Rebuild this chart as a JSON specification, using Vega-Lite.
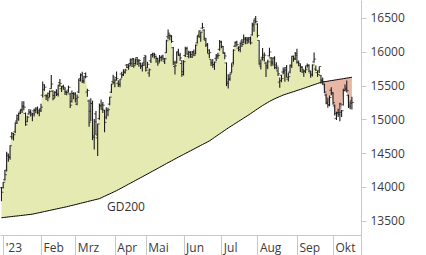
{
"$schema":"https://vega.github.io/schema/vega-lite/v6.json",
"width":361,"height":235,"autosize":"none",
"padding":{"left":0,"top":0,"right":65,"bottom":20},
"background":"white",
"config":{"view":{"stroke":null},
  "axisY":{"title":null,"orient":"right","grid":false,
        "values":[13300,13400,13500,13600,13700,13800,13900,14000,14100,14200,14300,14400,14500,14600,14700,14800,14900,15000,15100,15200,15300,15400,15500,15600,15700,15800,15900,16000,16100,16200,16300,16400,16500,16600,16700],
        "format":"d","labelExpr":"datum.value % 500 === 0 ? datum.label : ''",
        "tickSize":5,"tickColor":"#c8c8c8","domainColor":"#c8c8c8","labelPadding":4,
        "labelFont":"Open Sans","labelFontSize":12,"labelColor":"#3c3c3c","labelOverlap":false,"labelBound":false,"labelFlush":false}
},
"data":{"values":[
{"i":-1,"o":13990,"h":14000,"l":13790,"c":13924,"g":13545},
{"i":0,"o":13992,"h":14075,"l":13976,"c":14069,"g":13548},
{"i":1,"o":14108,"h":14252,"l":14095,"c":14181,"g":13551},
{"i":2,"o":14250,"h":14522,"l":14230,"c":14490,"g":13554},
{"i":3,"o":14462,"h":14492,"l":14372,"c":14436,"g":13557},
{"i":4,"o":14449,"h":14619,"l":14402,"c":14610,"g":13560},
{"i":5,"o":14744,"h":14815,"l":14704,"c":14792,"g":13563},
{"i":6,"o":14739,"h":14799,"l":14688,"c":14774,"g":13566},
{"i":7,"o":14817,"h":14959,"l":14800,"c":14948,"g":13569},
{"i":8,"o":14976,"h":15072,"l":14931,"c":15058,"g":13571},
{"i":9,"o":15007,"h":15097,"l":14980,"c":15086,"g":13574},
{"i":10,"o":15108,"h":15146,"l":15078,"c":15134,"g":13577},
{"i":11,"o":15149,"h":15270,"l":15093,"c":15187,"g":13580},
{"i":12,"o":15200,"h":15269,"l":15135,"c":15181,"g":13583},
{"i":13,"o":15088,"h":15103,"l":14906,"c":14920,"g":13586},
{"i":14,"o":14965,"h":15055,"l":14956,"c":15033,"g":13589},
{"i":15,"o":15081,"h":15154,"l":15073,"c":15103,"g":13592},
{"i":16,"o":15113,"h":15146,"l":15044,"c":15093,"g":13595},
{"i":17,"o":15069,"h":15093,"l":14973,"c":15081,"g":13598},
{"i":18,"o":15126,"h":15162,"l":15044,"c":15132,"g":13604},
{"i":19,"o":15138,"h":15178,"l":15092,"c":15150,"g":13609},
{"i":20,"o":15167,"h":15190,"l":15076,"c":15126,"g":13615},
{"i":21,"o":15098,"h":15153,"l":15048,"c":15128,"g":13620},
{"i":22,"o":15158,"h":15233,"l":15110,"c":15181,"g":13626},
{"i":23,"o":15358,"h":15559,"l":15325,"c":15509,"g":13631},
{"i":24,"o":15440,"h":15520,"l":15423,"c":15476,"g":13637},
{"i":25,"o":15350,"h":15372,"l":15286,"c":15345,"g":13642},
{"i":26,"o":15349,"h":15398,"l":15267,"c":15320,"g":13648},
{"i":27,"o":15385,"h":15429,"l":15327,"c":15412,"g":13653},
{"i":28,"o":15456,"h":15658,"l":15452,"c":15523,"g":13659},
{"i":29,"o":15420,"h":15432,"l":15283,"c":15307,"g":13664},
{"i":30,"o":15353,"h":15418,"l":15316,"c":15397,"g":13670},
{"i":31,"o":15405,"h":15446,"l":15346,"c":15380,"g":13675},
{"i":32,"o":15367,"h":15511,"l":15339,"c":15507,"g":13681},
{"i":33,"o":15543,"h":15599,"l":15481,"c":15534,"g":13686},
{"i":34,"o":15454,"h":15495,"l":15406,"c":15482,"g":13692},
{"i":35,"o":15492,"h":15512,"l":15441,"c":15477,"g":13697},
{"i":36,"o":15445,"h":15473,"l":15361,"c":15398,"g":13703},
{"i":37,"o":15413,"h":15424,"l":15358,"c":15400,"g":13708},
{"i":38,"o":15433,"h":15500,"l":15400,"c":15475,"g":13714},
{"i":39,"o":15377,"h":15394,"l":15168,"c":15210,"g":13721},
{"i":40,"o":15263,"h":15429,"l":15251,"c":15381,"g":13727},
{"i":41,"o":15386,"h":15400,"l":15297,"c":15365,"g":13733},
{"i":42,"o":15385,"h":15400,"l":15250,"c":15305,"g":13739},
{"i":43,"o":15225,"h":15370,"l":15210,"c":15328,"g":13746},
{"i":44,"o":15405,"h":15596,"l":15391,"c":15578,"g":13752},
{"i":45,"o":15603,"h":15680,"l":15561,"c":15654,"g":13758},
{"i":46,"o":15661,"h":15706,"l":15540,"c":15559,"g":13765},
{"i":47,"o":15575,"h":15647,"l":15532,"c":15631,"g":13771},
{"i":48,"o":15678,"h":15695,"l":15607,"c":15633,"g":13777},
{"i":49,"o":15405,"h":15453,"l":15335,"c":15428,"g":13784},
{"i":50,"o":15272,"h":15293,"l":14891,"c":14959,"g":13790},
{"i":51,"o":15120,"h":15312,"l":14975,"c":15233,"g":13796},
{"i":52,"o":15235,"h":15277,"l":14693,"c":14735,"g":13802},
{"i":53,"o":14755,"h":15004,"l":14554,"c":14967,"g":13809},
{"i":54,"o":15082,"h":15125,"l":14768,"c":14768,"g":13815},
{"i":55,"o":14727,"h":14937,"l":14458,"c":14933,"g":13821},
{"i":56,"o":15012,"h":15234,"l":14995,"c":15195,"g":13827},
{"i":57,"o":15208,"h":15293,"l":15146,"c":15216,"g":13839},
{"i":58,"o":15150,"h":15258,"l":15093,"c":15210,"g":13851},
{"i":59,"o":15137,"h":15142,"l":14809,"c":14957,"g":13863},
{"i":60,"o":15033,"h":15180,"l":15003,"c":15128,"g":13875},
{"i":61,"o":15140,"h":15172,"l":15047,"c":15142,"g":13887},
{"i":62,"o":15226,"h":15336,"l":15210,"c":15329,"g":13898},
{"i":63,"o":15402,"h":15529,"l":15390,"c":15522,"g":13910},
{"i":64,"o":15558,"h":15659,"l":15528,"c":15629,"g":13922},
{"i":65,"o":15546,"h":15608,"l":15476,"c":15581,"g":13934},
{"i":66,"o":15619,"h":15707,"l":15574,"c":15603,"g":13946},
{"i":67,"o":15533,"h":15580,"l":15478,"c":15520,"g":13960},
{"i":68,"o":15518,"h":15598,"l":15477,"c":15598,"g":13973},
{"i":69,"o":15673,"h":15706,"l":15611,"c":15655,"g":13987},
{"i":70,"o":15662,"h":15743,"l":15642,"c":15703,"g":14001},
{"i":71,"o":15695,"h":15749,"l":15674,"c":15729,"g":14014},
{"i":72,"o":15803,"h":15819,"l":15761,"c":15808,"g":14028},
{"i":73,"o":15768,"h":15815,"l":15733,"c":15789,"g":14042},
{"i":74,"o":15827,"h":15901,"l":15795,"c":15882,"g":14055},
{"i":75,"o":15828,"h":15898,"l":15776,"c":15896,"g":14069},
{"i":76,"o":15900,"h":15904,"l":15763,"c":15795,"g":14083},
{"i":77,"o":15826,"h":15901,"l":15810,"c":15882,"g":14097},
{"i":78,"o":15913,"h":15924,"l":15806,"c":15864,"g":14110},
{"i":79,"o":15862,"h":15894,"l":15779,"c":15872,"g":14124},
{"i":80,"o":15829,"h":15843,"l":15745,"c":15796,"g":14138},
{"i":81,"o":15783,"h":15833,"l":15707,"c":15800,"g":14151},
{"i":82,"o":15838,"h":15924,"l":15795,"c":15922,"g":14165},
{"i":83,"o":15946,"h":15946,"l":15708,"c":15727,"g":14179},
{"i":84,"o":15760,"h":15851,"l":15760,"c":15815,"g":14193},
{"i":85,"o":15685,"h":15751,"l":15630,"c":15734,"g":14207},
{"i":86,"o":15866,"h":15962,"l":15835,"c":15961,"g":14221},
{"i":87,"o":15957,"h":15987,"l":15915,"c":15953,"g":14234},
{"i":88,"o":15971,"h":15985,"l":15900,"c":15955,"g":14248},
{"i":89,"o":15932,"h":15943,"l":15836,"c":15897,"g":14262},
{"i":90,"o":15902,"h":15913,"l":15793,"c":15834,"g":14276},
{"i":91,"o":15864,"h":15952,"l":15843,"c":15914,"g":14290},
{"i":92,"o":15918,"h":15940,"l":15859,"c":15917,"g":14304},
{"i":93,"o":15938,"h":15958,"l":15872,"c":15898,"g":14318},
{"i":94,"o":15855,"h":15907,"l":15821,"c":15897,"g":14332},
{"i":95,"o":15985,"h":16177,"l":15983,"c":16163,"g":14346},
{"i":96,"o":16222,"h":16331,"l":16185,"c":16275,"g":14360},
{"i":97,"o":16245,"h":16258,"l":16171,"c":16224,"g":14373},
{"i":98,"o":16240,"h":16246,"l":16132,"c":16152,"g":14387},
{"i":99,"o":16060,"h":16071,"l":15806,"c":15842,"g":14401},
{"i":100,"o":15782,"h":15866,"l":15664,"c":15793,"g":14415},
{"i":101,"o":15836,"h":15999,"l":15828,"c":15984,"g":14428},
{"i":102,"o":16005,"h":16045,"l":15940,"c":15952,"g":14442},
{"i":103,"o":15947,"h":15985,"l":15867,"c":15909,"g":14455},
{"i":104,"o":15826,"h":15878,"l":15629,"c":15664,"g":14468},
{"i":105,"o":15706,"h":15876,"l":15651,"c":15853,"g":14482},
{"i":106,"o":15945,"h":16073,"l":15924,"c":16051,"g":14495},
{"i":107,"o":16042,"h":16075,"l":15955,"c":15964,"g":14508},
{"i":108,"o":15931,"h":16016,"l":15903,"c":15993,"g":14521},
{"i":109,"o":15993,"h":16008,"l":15911,"c":15960,"g":14535},
{"i":110,"o":15924,"h":16010,"l":15907,"c":15989,"g":14548},
{"i":111,"o":16003,"h":16032,"l":15935,"c":15950,"g":14561},
{"i":112,"o":15971,"h":16106,"l":15965,"c":16098,"g":14575},
{"i":113,"o":16132,"h":16239,"l":16122,"c":16231,"g":14588},
{"i":114,"o":16244,"h":16314,"l":16213,"c":16310,"g":14601},
{"i":115,"o":16215,"h":16295,"l":16149,"c":16290,"g":14615},
{"i":116,"o":16350,"h":16428,"l":16342,"c":16358,"g":14628},
{"i":117,"o":16320,"h":16335,"l":16175,"c":16201,"g":14641},
{"i":118,"o":16169,"h":16203,"l":16072,"c":16111,"g":14654},
{"i":119,"o":16096,"h":16130,"l":15980,"c":16023,"g":14668},
{"i":120,"o":15972,"h":16036,"l":15907,"c":15988,"g":14681},
{"i":121,"o":15889,"h":15889,"l":15790,"c":15830,"g":14698},
{"i":122,"o":15846,"h":15893,"l":15764,"c":15813,"g":14716},
{"i":123,"o":15810,"h":15856,"l":15732,"c":15846,"g":14733},
{"i":124,"o":15903,"h":15969,"l":15862,"c":15949,"g":14751},
{"i":125,"o":15927,"h":15984,"l":15898,"c":15946,"g":14768},
{"i":126,"o":16036,"h":16174,"l":16016,"c":16148,"g":14786},
{"i":127,"o":16143,"h":16163,"l":16054,"c":16081,"g":14803},
{"i":128,"o":16077,"h":16084,"l":15976,"c":15990,"g":14821},
{"i":129,"o":15975,"h":15991,"l":15890,"c":15938,"g":14838},
{"i":130,"o":15835,"h":15843,"l":15492,"c":15529,"g":14856},
{"i":131,"o":15553,"h":15667,"l":15456,"c":15603,"g":14873},
{"i":132,"o":15589,"h":15678,"l":15573,"c":15673,"g":14889},
{"i":133,"o":15695,"h":15829,"l":15689,"c":15790,"g":14905},
{"i":134,"o":15838,"h":16038,"l":15810,"c":16023,"g":14921},
{"i":135,"o":16082,"h":16154,"l":16071,"c":16141,"g":14938},
{"i":136,"o":16138,"h":16165,"l":16080,"c":16105,"g":14954},
{"i":137,"o":16054,"h":16081,"l":16006,"c":16068,"g":14970},
{"i":138,"o":16034,"h":16142,"l":15992,"c":16125,"g":14986},
{"i":139,"o":16158,"h":16190,"l":16069,"c":16108,"g":15002},
{"i":140,"o":16140,"h":16257,"l":16125,"c":16204,"g":15019},
{"i":141,"o":16185,"h":16217,"l":16112,"c":16177,"g":15035},
{"i":142,"o":16204,"h":16217,"l":16116,"c":16190,"g":15051},
{"i":143,"o":16163,"h":16219,"l":16128,"c":16211,"g":15068},
{"i":144,"o":16187,"h":16226,"l":16108,"c":16131,"g":15085},
{"i":145,"o":16250,"h":16431,"l":16242,"c":16407,"g":15102},
{"i":146,"o":16387,"h":16479,"l":16296,"c":16469,"g":15119},
{"i":147,"o":16490,"h":16528,"l":16421,"c":16447,"g":15137},
{"i":148,"o":16409,"h":16421,"l":16213,"c":16240,"g":15154},
{"i":149,"o":16168,"h":16171,"l":15810,"c":15821,"g":15171},
{"i":150,"o":15788,"h":15885,"l":15739,"c":15893,"g":15188},
{"i":151,"o":15918,"h":16055,"l":15870,"c":15952,"g":15205},
{"i":152,"o":15916,"h":15990,"l":15858,"c":15950,"g":15220},
{"i":153,"o":15832,"h":15854,"l":15626,"c":15774,"g":15235},
{"i":154,"o":15799,"h":15884,"l":15740,"c":15852,"g":15250},
{"i":155,"o":15941,"h":16060,"l":15930,"c":15997,"g":15265},
{"i":156,"o":15911,"h":15922,"l":15786,"c":15832,"g":15278},
{"i":157,"o":15850,"h":15917,"l":15794,"c":15904,"g":15292},
{"i":158,"o":15910,"h":15935,"l":15744,"c":15767,"g":15305},
{"i":159,"o":15806,"h":15845,"l":15739,"c":15789,"g":15316},
{"i":160,"o":15717,"h":15776,"l":15640,"c":15676,"g":15327},
{"i":161,"o":15551,"h":15620,"l":15469,"c":15574,"g":15338},
{"i":162,"o":15653,"h":15660,"l":15549,"c":15603,"g":15349},
{"i":163,"o":15701,"h":15768,"l":15667,"c":15729,"g":15360},
{"i":164,"o":15704,"h":15773,"l":15555,"c":15729,"g":15368},
{"i":165,"o":15766,"h":15805,"l":15619,"c":15622,"g":15377},
{"i":166,"o":15595,"h":15690,"l":15561,"c":15632,"g":15385},
{"i":167,"o":15700,"h":15811,"l":15683,"c":15792,"g":15393},
{"i":168,"o":15800,"h":15933,"l":15762,"c":15931,"g":15402},
{"i":169,"o":15937,"h":15943,"l":15853,"c":15891,"g":15410},
{"i":170,"o":15899,"h":15995,"l":15880,"c":15947,"g":15418},
{"i":171,"o":15976,"h":16044,"l":15827,"c":15840,"g":15427},
{"i":172,"o":15847,"h":15870,"l":15787,"c":15824,"g":15435},
{"i":173,"o":15796,"h":15826,"l":15702,"c":15772,"g":15443},
{"i":174,"o":15774,"h":15789,"l":15690,"c":15741,"g":15452},
{"i":175,"o":15700,"h":15736,"l":15631,"c":15718,"g":15460},
{"i":176,"o":15710,"h":15787,"l":15685,"c":15740,"g":15469},
{"i":177,"o":15794,"h":15827,"l":15763,"c":15800,"g":15478},
{"i":178,"o":15794,"h":15817,"l":15700,"c":15715,"g":15487},
{"i":179,"o":15688,"h":15719,"l":15615,"c":15654,"g":15496},
{"i":180,"o":15668,"h":15813,"l":15633,"c":15805,"g":15505},
{"i":181,"o":15850,"h":15990,"l":15842,"c":15893,"g":15513},
{"i":182,"o":15745,"h":15799,"l":15717,"c":15727,"g":15522},
{"i":183,"o":15693,"h":15717,"l":15628,"c":15664,"g":15531},
{"i":184,"o":15719,"h":15782,"l":15687,"c":15782,"g":15540},
{"i":185,"o":15651,"h":15657,"l":15526,"c":15572,"g":15549},
{"i":186,"o":15584,"h":15620,"l":15513,"c":15557,"g":15553},
{"i":187,"o":15520,"h":15530,"l":15388,"c":15405,"g":15557},
{"i":188,"o":15360,"h":15379,"l":15225,"c":15255,"g":15561},
{"i":189,"o":15236,"h":15321,"l":15173,"c":15217,"g":15565},
{"i":190,"o":15213,"h":15355,"l":15195,"c":15323,"g":15570},
{"i":191,"o":15431,"h":15475,"l":15357,"c":15387,"g":15574},
{"i":192,"o":15396,"h":15400,"l":15215,"c":15247,"g":15578},
{"i":193,"o":15200,"h":15219,"l":15058,"c":15085,"g":15582},
{"i":194,"o":15015,"h":15114,"l":14992,"c":15099,"g":15586},
{"i":195,"o":15092,"h":15157,"l":15037,"c":15070,"g":15590},
{"i":196,"o":15102,"h":15245,"l":14971,"c":15229,"g":15594},
{"i":197,"o":15105,"h":15140,"l":15036,"c":15128,"g":15598},
{"i":198,"o":15214,"h":15452,"l":15207,"c":15423,"g":15602},
{"i":199,"o":15432,"h":15515,"l":15418,"c":15460,"g":15607},
{"i":200,"o":15442,"h":15575,"l":15399,"c":15425,"g":15611},
{"i":201,"o":15356,"h":15367,"l":15168,"c":15187,"g":15615},
{"i":202,"o":15210,"h":15263,"l":15150,"c":15237,"g":15619},
{"i":203,"o":15276,"h":15334,"l":15145,"c":15251,"g":15623}
]},
"encoding":{
  "x":{"field":"i","type":"quantitative","scale":{"domain":[-1.86,208.3],"nice":false,"zero":false},
    "axis":{"title":null,"grid":false,"values":[0,22,42,65,83,105,127,148,171,192,208.3],
      "labelExpr":"datum.value == 0 ? \"'23\" : datum.value == 22 ? 'Feb' : datum.value == 42 ? 'Mrz' : datum.value == 65 ? 'Apr' : datum.value == 83 ? 'Mai' : datum.value == 105 ? 'Jun' : datum.value == 127 ? 'Jul' : datum.value == 148 ? 'Aug' : datum.value == 171 ? 'Sep' : datum.value == 192 ? 'Okt' : ''",
      "tickSize":20,"tickColor":"#c8c8c8","domainColor":"#c8c8c8","labelAlign":"left","labelOffset":2,
      "labelBaseline":"alphabetic","labelPadding":-4,"labelFont":"Open Sans","labelFontSize":12,
      "labelColor":"#3c3c3c","labelOverlap":false,"labelBound":false,"labelFlush":false}}
},
"layer":[
  {"transform":[{"filter":"datum.i <= 186"}],
   "mark":{"type":"area","color":"#e5eab3","opacity":1},
   "encoding":{"y":{"field":"c","type":"quantitative","title":null,"scale":{"domain":[13290,16766],"nice":false,"zero":false}},
     "y2":{"field":"g"}}},
  {"transform":[{"filter":"datum.i >= 186"}],
   "mark":{"type":"area","color":"#e7b6a4","opacity":1},
   "encoding":{"y":{"field":"c","type":"quantitative","title":null},"y2":{"field":"g"}}},
  {"mark":{"type":"line","color":"#000000","strokeWidth":1},
   "encoding":{"y":{"field":"g","type":"quantitative","title":null}}},
  {"mark":{"type":"rule","color":"#1e1e1e","strokeWidth":1.1},
   "encoding":{"y":{"field":"l","type":"quantitative","title":null},"y2":{"field":"h"}}},
  {"mark":{"type":"tick","orient":"horizontal","color":"#1e1e1e","size":2,"thickness":1,"xOffset":-1},
   "encoding":{"y":{"field":"o","type":"quantitative","title":null}}},
  {"mark":{"type":"tick","orient":"horizontal","color":"#1e1e1e","size":2,"thickness":1,"xOffset":1},
   "encoding":{"y":{"field":"c","type":"quantitative","title":null}}},
  {"data":{"values":[{"i":60.4,"c":13641,"t":"GD200"}]},
   "mark":{"type":"text","align":"left","baseline":"alphabetic","font":"Open Sans","fontSize":12,"color":"#333333"},
   "encoding":{"y":{"field":"c","type":"quantitative","title":null},"text":{"field":"t"}}}
]
}
